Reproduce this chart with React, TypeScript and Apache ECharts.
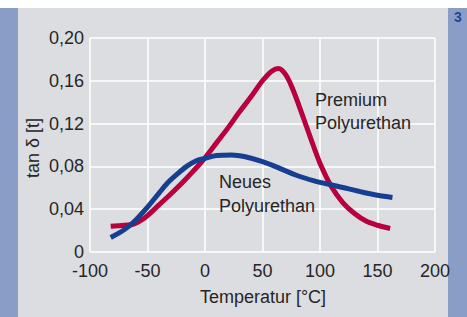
import React, { useEffect, useRef } from "react";
import * as echarts from "echarts";

const xTicks = [-100, -50, 0, 50, 100, 150, 200];
const yTickLabels = ["0", "0,04", "0,08", "0,12", "0,16", "0,20"];

const premiumTemps = [-82, -70, -62, -55, -50, -40, -30, -20, -10, 0, 10, 20, 30, 40, 50, 58, 64, 70, 76, 84, 92, 100, 110, 120, 130, 140, 150, 161];
const premiumValues = [0.024, 0.025, 0.026, 0.03, 0.034, 0.044, 0.054, 0.0645, 0.0758, 0.088, 0.102, 0.116, 0.131, 0.145, 0.16, 0.169, 0.1715, 0.166, 0.153, 0.13, 0.106, 0.083, 0.061, 0.046, 0.036, 0.029, 0.025, 0.022];

const neuesTemps = [-82, -70, -62, -50, -40, -33, -25, -16, -8, 0, 10, 23, 35, 50, 65, 80, 95, 110, 125, 135, 150, 163];
const neuesValues = [0.0135, 0.021, 0.028, 0.042, 0.055, 0.064, 0.072, 0.08, 0.085, 0.0875, 0.0902, 0.0907, 0.089, 0.0844, 0.0782, 0.0715, 0.0665, 0.0626, 0.059, 0.0564, 0.053, 0.051];

const seriesNames = ["Premium Polyurethan", "Neues Polyurethan"];
const xAxisTitle = "Temperatur [°C]";
const yAxisTitle = "tan δ [t]";

const FONT = "'Liberation Sans', Arial, sans-serif";
const TEXT = "#262626";

export default function App() {
  const ref = useRef<HTMLDivElement>(null);
  useEffect(() => {
    if (!ref.current) return;
    const chart = echarts.init(ref.current, null, { renderer: "svg" });
    const premium = premiumTemps.map((t, i) => [t, premiumValues[i]]);
    const neues = neuesTemps.map((t, i) => [t, neuesValues[i]]);
    chart.setOption({
      animation: false,
      backgroundColor: "#dcdde0",
      grid: { left: 90, top: 38, right: 32, bottom: 65 },
      xAxis: {
        type: "value",
        min: xTicks[0],
        max: xTicks[xTicks.length - 1],
        interval: 50,
        axisLine: { show: false },
        axisTick: { show: false },
        splitLine: { show: true, lineStyle: { color: "#ffffff", width: 1.5 } },
        axisLabel: { color: TEXT, fontSize: 18, fontFamily: FONT, margin: 10 },
      },
      yAxis: {
        type: "value",
        min: 0,
        max: 0.2,
        interval: 0.04,
        axisLine: { show: false },
        axisTick: { show: false },
        splitLine: { show: true, lineStyle: { color: "#ffffff", width: 1.5 } },
        axisLabel: {
          color: TEXT,
          fontSize: 18,
          fontFamily: FONT,
          margin: 6,
          formatter: (v: number) => yTickLabels[Math.round(v / 0.04)] ?? "",
        },
      },
      series: [
        {
          name: seriesNames[0],
          type: "line",
          data: premium,
          smooth: 0.35,
          symbol: "none",
          lineStyle: { color: "#b8003e", width: 5 },
          z: 3,
        },
        {
          name: seriesNames[1],
          type: "line",
          data: neues,
          smooth: 0.35,
          symbol: "none",
          lineStyle: { color: "#173f91", width: 5 },
          z: 4,
        },
      ],
      graphic: [
        { type: "rect", shape: { x: 0, y: 0, width: 18, height: 317 }, style: { fill: "#8a9dc7" }, z: 0 },
        { type: "rect", shape: { x: 448, y: 0, width: 19, height: 317 }, style: { fill: "#8a9dc7" }, z: 0 },
        { type: "rect", shape: { x: 0, y: 0, width: 467, height: 8 }, style: { fill: "#ffffff" }, z: 1 },
        { type: "text", x: 454, y: 17, style: { text: "3", fill: "#1b4a9a", font: `bold 14px ${FONT}`, textVerticalAlign: "middle" }, z: 2 },
        { type: "text", x: 315, y: 100, style: { text: "Premium", fill: TEXT, font: `18px ${FONT}`, textVerticalAlign: "middle" }, z: 10 },
        { type: "text", x: 315, y: 123, style: { text: "Polyurethan", fill: TEXT, font: `18px ${FONT}`, textVerticalAlign: "middle" }, z: 10 },
        { type: "text", x: 219, y: 182, style: { text: "Neues", fill: TEXT, font: `18px ${FONT}`, textVerticalAlign: "middle" }, z: 10 },
        { type: "text", x: 219, y: 206, style: { text: "Polyurethan", fill: TEXT, font: `18px ${FONT}`, textVerticalAlign: "middle" }, z: 10 },
        { type: "text", x: 263, y: 297, style: { text: xAxisTitle, fill: TEXT, font: `18px ${FONT}`, textAlign: "center", textVerticalAlign: "middle" }, z: 10 },
        { type: "text", x: 33, y: 148, rotation: Math.PI / 2, style: { text: yAxisTitle, fill: TEXT, font: `18px ${FONT}`, textAlign: "center", textVerticalAlign: "middle" }, z: 10 },
      ],
    });
    return () => chart.dispose();
  }, []);
  return <div ref={ref} style={{ position: "fixed", left: 0, top: 0, width: 467, height: 317 }} />;
}
